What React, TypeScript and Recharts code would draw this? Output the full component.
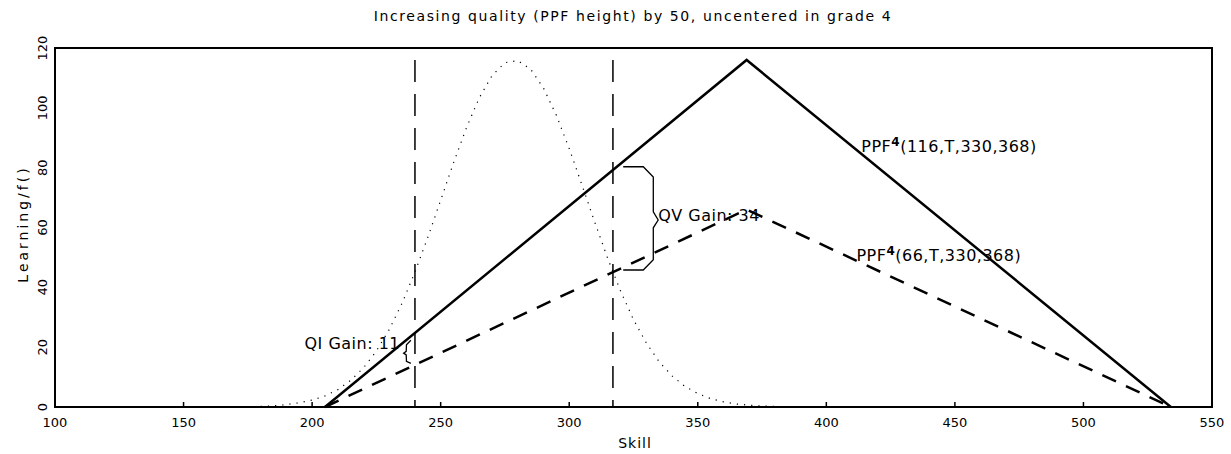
import { LineChart, Line, XAxis, YAxis, ReferenceArea, ReferenceDot, Customized } from 'recharts';

// axes
const xTicks = [100, 150, 200, 250, 300, 350, 400, 450, 500, 550];
const yTicks = [0, 20, 40, 60, 80, 100, 120];

// PPF triangles (skill -> learning)
const ppfSkill = [205, 369, 534];
const ppfHigh = [0, 116, 0];
const ppfLow = [0, 66, 0];

// skill distribution (dotted bell)
const distSkill = [
  180, 185, 190, 195, 200, 205, 210, 215, 220, 225, 230, 235, 240, 245, 250, 255, 260, 265, 270, 275,
  280, 285, 290, 295, 300, 305, 310, 315, 320, 325, 330, 335, 340, 345, 350, 355, 360, 365, 370, 375, 380, 385,
];
const distValue = [
  0.2, 0.4, 0.8, 1.4, 2.3, 3.7, 5.8, 8.9, 13.1, 18.7, 25.9, 34.7, 45.1, 56.7, 69.1, 81.6, 93.3, 103.3, 110.8, 115.1,
  115.8, 112.9, 106.6, 97.5, 86.4, 74.1, 61.6, 49.6, 38.7, 29.2, 21.4, 15.1, 10.4, 6.9, 4.5, 2.8, 1.7, 1.0, 0.6, 0.3, 0.2, 0.1,
];

// grade cutoffs (vertical dashed)
const cutoffs = [240, 317];
const cutoffTop = 116;

// gain braces
const qvBraceX = [321, 328.8, 332.7, 332.7, 334.6, 332.7, 332.7, 328.8, 321];
const qvBraceY = [80.3, 80.3, 76.9, 65.2, 62.5, 59.9, 49.2, 45.8, 45.8];
const qiBraceX = [238.4, 236.7, 236.6, 235.6, 236.6, 236.7, 238.4];
const qiBraceY = [22.3, 20.8, 18.6, 18.0, 17.4, 15.3, 14.6];

const toPoints = (xs: number[], ys: number[]) => xs.map((x, i) => ({ x, y: ys[i] }));

const highData = toPoints(ppfSkill, ppfHigh);
const lowData = toPoints(ppfSkill, ppfLow);
const distData = toPoints(distSkill, distValue);
const qvBrace = toPoints(qvBraceX, qvBraceY);
const qiBrace = toPoints(qiBraceX, qiBraceY);

const FONT = 'DejaVu Sans';

const BottomTick = (p: any) => (
  <g>
    <line x1={p.x} x2={p.x} y1={p.y} y2={p.y - 5} stroke="#000" strokeWidth={1.5} />
    <text x={p.x} y={p.y + 20} textAnchor="middle" fontSize={13} fontFamily={FONT} fill="#000">
      {p.payload.value}
    </text>
  </g>
);

const TopTick = (p: any) => (
  <line x1={p.x} x2={p.x} y1={p.y} y2={p.y + 5} stroke="#000" strokeWidth={1.5} />
);

const LeftTick = (p: any) => (
  <text
    x={p.x - 8}
    y={p.y}
    transform={`rotate(-90, ${p.x - 8}, ${p.y})`}
    textAnchor="middle"
    fontSize={13}
    fontFamily={FONT}
    fill="#000"
  >
    {p.payload.value}
  </text>
);

const note = (text: string, anchor: 'start' | 'end' = 'start') => (props: any) => {
  const vb = props.viewBox;
  const x = vb.x + vb.width / 2;
  const y = vb.y + vb.height / 2;
  return (
    <text x={x} y={y} textAnchor={anchor} fontSize={16} fontFamily={FONT} fill="#000" letterSpacing={0.5}>
      {text}
    </text>
  );
};

const ppfNote = (args: string) => (props: any) => {
  const vb = props.viewBox;
  const x = vb.x + vb.width / 2;
  const y = vb.y + vb.height / 2;
  return (
    <text x={x} y={y} fontSize={16} fontFamily={FONT} fill="#000" letterSpacing={0.5}>
      PPF
      <tspan dy={-6} fontSize={12} fontWeight="bold">4</tspan>
      <tspan dy={6}>{args}</tspan>
    </text>
  );
};

const Titles = () => (
  <g fontFamily={FONT} fill="#000">
    <text x={633} y={21} textAnchor="middle" fontSize={14} letterSpacing={1.6}>
      Increasing quality (PPF height) by 50, uncentered in grade 4
    </text>
    <text x={635} y={448} textAnchor="middle" fontSize={14} letterSpacing={1}>
      Skill
    </text>
    <text x={28} y={224} transform="rotate(-90, 28, 224)" textAnchor="middle" fontSize={14} letterSpacing={3}>
      Learning/f()
    </text>
  </g>
);

export default function App() {
  return (
    <div style={{ position: 'absolute', left: 0, top: 0, width: 1231, height: 454, background: '#fff' }}>
      <LineChart width={1231} height={454} margin={{ top: 48, right: 19, bottom: 17, left: 0 }}>
        <XAxis
          dataKey="x"
          type="number"
          domain={[100, 550]}
          ticks={xTicks}
          interval={0}
          height={30}
          axisLine={false}
          tickLine={false}
          tickSize={0}
          tickMargin={0}
          tick={BottomTick}
        />
        <XAxis
          xAxisId="top"
          orientation="top"
          type="number"
          domain={[100, 550]}
          ticks={xTicks}
          interval={0}
          height={0}
          axisLine={false}
          tickLine={false}
          tickSize={0}
          tickMargin={0}
          tick={TopTick}
        />
        <YAxis
          type="number"
          domain={[0, 120]}
          ticks={yTicks}
          interval={0}
          width={55}
          axisLine={false}
          tickLine={false}
          tickSize={0}
          tickMargin={0}
          tick={LeftTick}
        />
        <ReferenceArea x1={100} x2={550} y1={0} y2={120} fill="none" stroke="#000" strokeWidth={2} />

        <Line data={distData} dataKey="y" stroke="#000" strokeWidth={1.2} strokeDasharray="1.2 6" dot={false} isAnimationActive={false} />
        {cutoffs.map((c) => (
          <Line
            key={c}
            data={[{ x: c, y: cutoffTop }, { x: c, y: 0 }]}
            dataKey="y"
            stroke="#000"
            strokeWidth={1.5}
            strokeDasharray="22 12"
            dot={false}
            isAnimationActive={false}
          />
        ))}
        <Line data={highData} dataKey="y" stroke="#000" strokeWidth={2.5} dot={false} isAnimationActive={false} />
        <Line data={lowData} dataKey="y" stroke="#000" strokeWidth={2.5} strokeDasharray="15 11" dot={false} isAnimationActive={false} />
        <Line data={qvBrace} dataKey="y" stroke="#000" strokeWidth={1.3} dot={false} isAnimationActive={false} />
        <Line data={qiBrace} dataKey="y" stroke="#000" strokeWidth={1.3} dot={false} isAnimationActive={false} />

        <ReferenceDot x={413.6} y={85.3} r={0.5} fill="none" stroke="none" label={ppfNote('(116,T,330,368)')} />
        <ReferenceDot x={411.7} y={48.8} r={0.5} fill="none" stroke="none" label={ppfNote('(66,T,330,368)')} />
        <ReferenceDot x={334.6} y={62.2} r={0.5} fill="none" stroke="none" label={note('QV Gain: 34')} />
        <ReferenceDot x={234.2} y={19.4} r={0.5} fill="none" stroke="none" label={note('QI Gain: 11', 'end')} />

        <Customized component={Titles} />
      </LineChart>
    </div>
  );
}
